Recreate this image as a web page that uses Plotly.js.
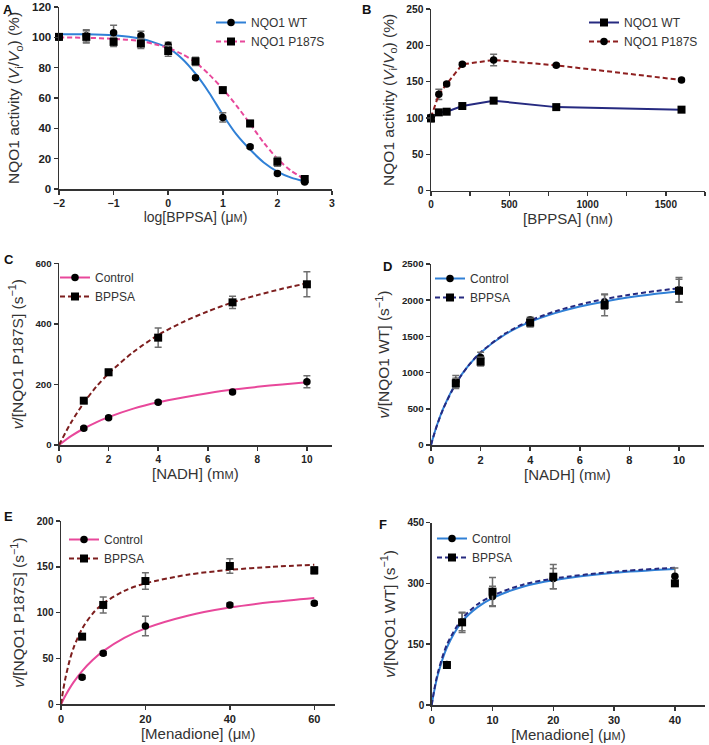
<!DOCTYPE html>
<html><head><meta charset="utf-8">
<script src="https://cdn.plot.ly/plotly-3.0.1.min.js"></script>
<style>html,body{margin:0;padding:0;background:#fff}#chart{width:709px;height:745px}</style>
</head><body><div id="chart"></div>
<script>
// ---------- Panel A : log[BPPSA] inhibition ----------
const aX      = [-2, -1.5, -1, -0.5, 0, 0.5, 1, 1.5, 2, 2.5];
const aWT     = [100, 101, 103, 101, 94.8, 73.3, 47.2, 27.9, 10.3, 4.6];
const aWTerr  = [1, 4, 5, 3, 2, 1, 3, 1, 1, 1];
const aP      = [100.3, 100.3, 97, 95.9, 91, 84.2, 65.2, 43.2, 18, 6.6];
const aPerr   = [1, 4, 3, 3.3, 3.4, 2.7, 1.5, 2, 3, 2];
const aFitX   = [-2, -1.5, -1, -0.5, -0.25, 0, 0.25, 0.5, 0.75, 1, 1.25, 1.5, 1.75, 2, 2.25, 2.5];
const aFitWT  = [102, 102, 101.3, 99, 96.5, 93, 86, 76, 63.5, 49, 36, 26, 17.5, 11.5, 7.5, 5];
const aFitP   = [100, 99.7, 99, 97.5, 95.5, 93, 89, 83.5, 75.5, 66, 55, 43, 30.5, 20, 12, 6.5];

// ---------- Panel B : activation by BPPSA ----------
const bX      = [0, 50, 100, 200, 400, 800, 1600];
const bWT     = [99.5, 107.8, 108.7, 116.5, 123.9, 115, 111.5];
const bWTerr  = [5, 2, 2, 2, 2, 2, 2];
const bP      = [101, 132.6, 146.8, 173.9, 179.8, 172.5, 152.3];
const bPerr   = [2, 7, 2, 2, 7.8, 2, 2];

// ---------- Panel C : NADH, NQO1 P187S ----------
const cX       = [1, 2, 4, 7, 10];
const cCtrl    = [55, 90, 141, 175, 209];
const cCtrlErr = [5, 5, 5, 5, 20];
const cBP      = [146.4, 240, 354.5, 471, 530.7];
const cBPerr   = [8, 10, 32, 20, 41];
const cFitX    = [0, 0.5, 1, 1.5, 2, 3, 4, 5, 6, 7, 8, 9, 10];
const cFitCtrl = [0, 30, 54.5, 75, 92, 120, 141, 157, 171, 183, 192, 200, 207];
const cFitBP   = [0, 76, 139, 192, 236, 307, 363, 406, 441, 471, 495, 516, 534];

// ---------- Panel D : NADH, NQO1 WT ----------
const dX       = [1, 2, 4, 7, 10];
const dCtrl    = [880, 1210, 1725, 1975, 2145];
const dCtrlErr = [80, 70, 40, 100, 170];
const dBP      = [852, 1151, 1690, 1934, 2130];
const dBPerr   = [70, 60, 60, 150, 160];
const dFitX    = [0, 0.1, 0.25, 0.5, 1, 1.5, 2, 3, 4, 5, 6, 7, 8, 9, 10];
const dFitCtrl = [0, 121, 283, 510, 850, 1093, 1275, 1530, 1700, 1821, 1913, 1983, 2040, 2086, 2125];
const dFitBP   = [0, 119, 279, 504, 845, 1092, 1278, 1541, 1718, 1845, 1941, 2015, 2075, 2124, 2165];

// ---------- Panel E : Menadione, NQO1 P187S ----------
const eX       = [5, 10, 20, 40, 60];
const eCtrl    = [29.5, 55.6, 85.5, 108.4, 110.2];
const eCtrlErr = [2, 2, 10.7, 2, 2];
const eBP      = [73.8, 108.4, 134.5, 150.9, 146.2];
const eBPerr   = [2, 8.7, 9, 8, 4];
const eFitX    = [0, 0.5, 1, 2, 3, 5, 7.5, 10, 15, 20, 30, 40, 50, 60];
const eFitCtrl = [0, 4.7, 9.1, 17.1, 24.2, 36.3, 48.3, 58, 72.5, 82.9, 96.7, 105.5, 111.5, 116];
const eFitBP   = [0, 15, 27.5, 47.1, 61.9, 82.5, 99, 110, 123.8, 132, 141.4, 146.7, 150, 152.3];

// ---------- Panel F : Menadione, NQO1 WT ----------
const fX       = [2.5, 5, 10, 20, 40];
const fCtrl    = [100, 205, 268, 312, 318];
const fCtrlErr = [5, 22, 25, 25, 20];
const fBP      = [98.7, 204, 279.7, 316.7, 300.3];
const fBPerr   = [8, 25, 35, 30, 5];
const fFitX    = [0, 0.2, 0.5, 1, 2.5, 5, 7.5, 10, 15, 20, 30, 40];
const fFitCtrl = [0, 17.6, 41, 74, 142, 206, 241, 264, 292, 308, 326.5, 336];
const fFitBP   = [0, 19, 44, 79, 149, 213, 248, 270, 297, 312, 329, 339];

// ---------- styles ----------
const FONT = '"Liberation Sans", Arial, sans-serif';
const AXC = '#333333';
const PINK = '#e8489b', BLUE = '#3080d6', NAVY = '#262a80', DRED = '#7d1e1e', BRED = '#8e1f1f';
const DASH = '5px,3px';
const W = 709, H = 745;

function curve(x, y, color, dash, xa, ya) {
  return {type: 'scatter', mode: 'lines', x: x, y: y, xaxis: xa, yaxis: ya,
    line: {color: color, width: 2, dash: dash || 'solid', shape: 'spline', smoothing: 0.8},
    showlegend: false, hoverinfo: 'skip', cliponaxis: false};
}
function msize(symbol) { return symbol === 'square' ? 8 : 7.5; }
function pts(x, y, err, symbol, xa, ya) {
  return {type: 'scatter', mode: 'markers', x: x, y: y, xaxis: xa, yaxis: ya,
    marker: {color: '#000', size: msize(symbol), symbol: symbol},
    error_y: {type: 'data', array: err, visible: true, color: '#6e6e6e', thickness: 1.5, width: 3.5},
    showlegend: false, cliponaxis: false};
}
function leg(name, color, dash, symbol, legend, xa, ya) {
  return {type: 'scatter', mode: 'lines+markers', x: [null], y: [null], name: name, legend: legend,
    xaxis: xa, yaxis: ya, line: {color: color, width: 2, dash: dash || 'solid'},
    marker: {color: '#000', size: msize(symbol), symbol: symbol}, showlegend: true};
}

const traces = [
  // A
  curve(aFitX, aFitWT, BLUE, 'solid', 'x', 'y'),
  curve(aFitX, aFitP, PINK, DASH, 'x', 'y'),
  pts(aX, aWT, aWTerr, 'circle', 'x', 'y'),
  pts(aX, aP, aPerr, 'square', 'x', 'y'),
  leg('NQO1 WT', BLUE, 'solid', 'circle', 'legend', 'x', 'y'),
  leg('NQO1 P187S', PINK, DASH, 'square', 'legend', 'x', 'y'),
  // B
  Object.assign(pts(bX, bWT, bWTerr, 'square', 'x2', 'y2'),
    {mode: 'lines+markers', line: {color: NAVY, width: 2}, name: 'NQO1 WT', legend: 'legend2', showlegend: true}),
  Object.assign(pts(bX, bP, bPerr, 'circle', 'x2', 'y2'),
    {mode: 'lines+markers', line: {color: BRED, width: 2, dash: DASH}, name: 'NQO1 P187S', legend: 'legend2', showlegend: true}),
  // C
  curve(cFitX, cFitCtrl, PINK, 'solid', 'x3', 'y3'),
  curve(cFitX, cFitBP, DRED, DASH, 'x3', 'y3'),
  pts(cX, cCtrl, cCtrlErr, 'circle', 'x3', 'y3'),
  pts(cX, cBP, cBPerr, 'square', 'x3', 'y3'),
  leg('Control', PINK, 'solid', 'circle', 'legend3', 'x3', 'y3'),
  leg('BPPSA', DRED, DASH, 'square', 'legend3', 'x3', 'y3'),
  // D
  curve(dFitX, dFitCtrl, BLUE, 'solid', 'x4', 'y4'),
  curve(dFitX, dFitBP, NAVY, DASH, 'x4', 'y4'),
  pts(dX, dCtrl, dCtrlErr, 'circle', 'x4', 'y4'),
  pts(dX, dBP, dBPerr, 'square', 'x4', 'y4'),
  leg('Control', BLUE, 'solid', 'circle', 'legend4', 'x4', 'y4'),
  leg('BPPSA', NAVY, DASH, 'square', 'legend4', 'x4', 'y4'),
  // E
  curve(eFitX, eFitCtrl, PINK, 'solid', 'x5', 'y5'),
  curve(eFitX, eFitBP, DRED, DASH, 'x5', 'y5'),
  pts(eX, eCtrl, eCtrlErr, 'circle', 'x5', 'y5'),
  pts(eX, eBP, eBPerr, 'square', 'x5', 'y5'),
  leg('Control', PINK, 'solid', 'circle', 'legend5', 'x5', 'y5'),
  leg('BPPSA', DRED, DASH, 'square', 'legend5', 'x5', 'y5'),
  // F
  curve(fFitX, fFitCtrl, BLUE, 'solid', 'x6', 'y6'),
  curve(fFitX, fFitBP, NAVY, DASH, 'x6', 'y6'),
  pts(fX, fCtrl, fCtrlErr, 'circle', 'x6', 'y6'),
  pts(fX, fBP, fBPerr, 'square', 'x6', 'y6'),
  leg('Control', BLUE, 'solid', 'circle', 'legend6', 'x6', 'y6'),
  leg('BPPSA', NAVY, DASH, 'square', 'legend6', 'x6', 'y6')
];

function axisBase(title, standoff, tickSize, titleSize) {
  return {showline: true, linecolor: AXC, linewidth: 1.5, ticks: 'outside', ticklen: 4, tickwidth: 1.5,
    tickcolor: AXC, showgrid: false, zeroline: false, automargin: false, fixedrange: true,
    tickfont: {family: FONT, size: tickSize, color: '#222', weight: 700},
    title: {text: title, font: {family: FONT, size: titleSize, color: '#333'}, standoff: standoff}};
}
function xax(l, r, range, dtick, title, anchor, tickSize, titleSize, extra) {
  return Object.assign(axisBase(title, 4, tickSize, titleSize),
    {domain: [l / W, r / W], range: range, dtick: dtick, anchor: anchor}, extra || {});
}
function yax(bottom, top, range, dtick, title, anchor, tickSize, titleSize) {
  return Object.assign(axisBase(title, 8, tickSize, titleSize),
    {domain: [1 - bottom / H, 1 - top / H], range: range, dtick: dtick, tick0: 0, anchor: anchor});
}
function legendCfg(textX, centerY) {
  return {x: (textX - 40) / W, y: 1 - (centerY - 11) / H, xanchor: 'left', yanchor: 'top',
    bgcolor: 'rgba(0,0,0,0)', borderwidth: 0, tracegroupgap: 0, itemwidth: 30,
    font: {family: FONT, size: 12, color: '#333'}};
}
const SC = (t) => '<span style="font-size:11px">' + t + '</span>';
const yAct = 'NQO1 activity (<i>V</i><sub>i</sub>/<i>V</i><sub>o</sub>) (%)';
const yP187 = '<i>v</i>/[NQO1 P187S] (s<sup>−1</sup>)';
const yWT = '<i>v</i>/[NQO1 WT] (s<sup>−1</sup>)';

function letter(t, px, py) {
  return {text: '<b>' + t + '</b>', xref: 'paper', yref: 'paper', x: px / W, y: 1 - py / H,
    xanchor: 'left', yanchor: 'top', showarrow: false, borderpad: 0,
    font: {family: FONT, size: 13, color: '#111'}};
}

const layout = {
  width: W, height: H, margin: {l: 0, r: 0, t: 0, b: 0}, paper_bgcolor: '#fff', plot_bgcolor: 'rgba(0,0,0,0)',
  font: {family: FONT, color: '#333'}, hovermode: false,
  xaxis:  xax(59, 332, [-2, 3], 1, 'log[BPPSA] (μ' + SC('M') + ')', 'y', 10.5, 14),
  yaxis:  yax(189, 7, [0, 120], 20, yAct, 'x', 11.5, 15.5),
  xaxis2: xax(431, 705, [0, 1750], 500, '[BPPSA] (n' + SC('M') + ')', 'y2', 10, 15,
          {minor: {dtick: 250, ticklen: 4, tickwidth: 1.5, tickcolor: AXC, ticks: 'outside', showgrid: false}}),
  yaxis2: yax(190.7, 9, [0, 250], 50, yAct, 'x2', 10.3, 15.5),
  xaxis3: xax(59, 331.7, [0, 11], 2, '[NADH] (m' + SC('M') + ')', 'y3', 10, 15),
  yaxis3: yax(445, 263.3, [0, 600], 200, yP187, 'x3', 9.7, 15.5),
  xaxis4: xax(431, 703.8, [0, 11], 2, '[NADH] (m' + SC('M') + ')', 'y4', 11, 15),
  yaxis4: yax(445, 264, [0, 2500], 500, yWT, 'x4', 9.7, 15.5),
  xaxis5: xax(61, 335.4, [0, 65], 20, '[Menadione] (μ' + SC('M') + ')', 'y5', 11, 15),
  yaxis5: yax(704.3, 521, [0, 200], 50, yP187, 'x5', 10, 15.5),
  xaxis6: xax(431.7, 705.3, [0, 45], 10, '[Menadione] (μ' + SC('M') + ')', 'y6', 11, 15),
  yaxis6: yax(705, 522.7, [0, 450], 150, yWT, 'x6', 10, 15.5),
  legend:  legendCfg(251, 19),
  legend2: legendCfg(624, 19),
  legend3: legendCfg(95, 274),
  legend4: legendCfg(470, 275),
  legend5: legendCfg(104, 536),
  legend6: legendCfg(472, 535),
  annotations: [
    letter('A', 2, 1), letter('B', 361, 1), letter('C', 3, 251),
    letter('D', 382, 258), letter('E', 3, 508), letter('F', 378, 516)
  ]
};

Plotly.newPlot('chart', traces, layout, {displayModeBar: false, staticPlot: true});
</script>
</body></html>
